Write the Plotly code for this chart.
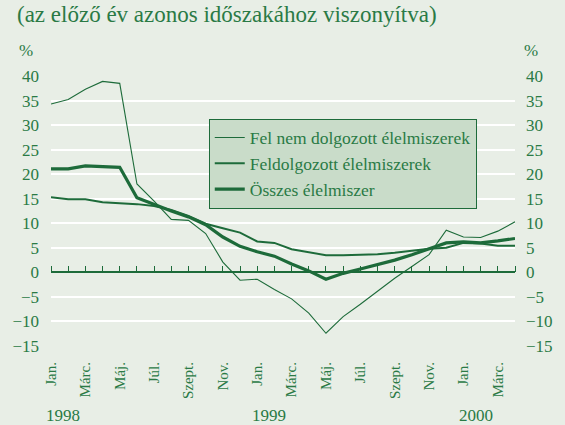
import plotly.graph_objects as go

# ---- data (monthly, Jan 1998 .. Apr 2000) ----
months_idx = list(range(28))
tick_pos = [0, 2, 4, 6, 8, 10, 12, 14, 16, 18, 20, 22, 24, 26]
tick_labels = ["Jan.", "Márc.", "Máj.", "Júl.", "Szept.", "Nov.",
               "Jan.", "Márc.", "Máj.", "Júl.", "Szept.", "Nov.",
               "Jan.", "Márc."]
years = ["1998", "1999", "2000"]
year_pos = [0, 12, 24]

fel_nem = [34.3, 35.2, 37.3, 38.9, 38.5, 18.0, 14.5, 10.8, 10.6, 7.9, 2.1, -1.6,
           -1.4, -3.5, -5.4, -8.3, -12.4, -9.0, -6.5, -3.9, -1.2, 1.2, 3.6, 8.6,
           7.2, 7.1, 8.4, 10.3]
feldolgozott = [15.3, 14.9, 14.9, 14.3, 14.1, 13.9, 13.5, 12.7, 11.5, 9.9, 9.0, 8.1,
                6.3, 6.0, 4.7, 4.1, 3.5, 3.5, 3.6, 3.7, 4.0, 4.4, 4.8, 5.0,
                6.0, 5.9, 5.4, 5.4]
osszes = [21.1, 21.1, 21.7, 21.6, 21.4, 15.2, 13.8, 12.5, 11.3, 9.7, 7.2, 5.3,
          4.2, 3.3, 1.7, 0.3, -1.4, -0.2, 0.7, 1.6, 2.5, 3.6, 4.8, 6.0,
          6.2, 6.0, 6.4, 6.9]

series_names = ["Fel nem dolgozott élelmiszerek", "Feldolgozott élelmiszerek", "Összes élelmiszer"]
y_ticks = [-15, -10, -5, 0, 5, 10, 15, 20, 25, 30, 35, 40]

# ---- style ----
BG = "#E8EEE6"
LINE = "#1D6B3A"
TXT = "#2A7A45"
FONT = "Times New Roman, Liberation Serif, Tinos, Times, serif"
YMIN, YMAX = -15, 40
XMAX = 27

fig = go.Figure()
for name, vals, w in zip(series_names, [fel_nem, feldolgozott, osszes], [1.1, 2.0, 3.2]):
    fig.add_trace(go.Scatter(x=months_idx, y=vals, mode="lines", name=name,
                             line=dict(color=LINE, width=w)))

# invisible trace to carry the tick axis at zero
fig.add_trace(go.Scatter(x=months_idx, y=[0] * len(months_idx), xaxis="x2", yaxis="y",
                         mode="lines", line=dict(width=0), showlegend=False, hoverinfo="skip"))
# right axis carrier
fig.add_trace(go.Scatter(x=months_idx, y=osszes, xaxis="x", yaxis="y2", mode="lines",
                         line=dict(width=0), showlegend=False, hoverinfo="skip"))

zero_pos = (0 - YMIN) / (YMAX - YMIN)

fig.update_layout(
    width=565, height=425,
    margin=dict(l=47, r=34, t=76, b=79),
    paper_bgcolor=BG, plot_bgcolor=BG,
    font=dict(family=FONT, color=TXT, size=17),
    showlegend=True,
    legend=dict(x=0.340, y=0.842, xanchor="left", yanchor="top",
                bgcolor="#C9DCC9", bordercolor=LINE, borderwidth=1,
                font=dict(family=FONT, size=17.5, color=TXT),
                tracegroupgap=0, itemwidth=30),
    xaxis=dict(range=[0, XMAX], tickmode="array", tickvals=tick_pos, ticktext=tick_labels,
               tickangle=-90, showgrid=False, zeroline=False, showline=False, ticks="",
               tickfont=dict(size=15, family=FONT, color=TXT), ticklabelstandoff=12),
    xaxis2=dict(range=[0, XMAX], overlaying="x", anchor="free", position=zero_pos, side="top",
                tickmode="array", tickvals=months_idx, showticklabels=False,
                ticks="outside", ticklen=6, tickwidth=1.3, tickcolor=LINE,
                showgrid=False, zeroline=False, showline=False),
    yaxis=dict(range=[YMIN, YMAX], tickmode="array", tickvals=y_ticks,
               showgrid=True, gridcolor="white", gridwidth=1.6,
               zeroline=True, zerolinecolor=LINE, zerolinewidth=1.6,
               showline=False, ticks="", tickfont=dict(size=17, family=FONT, color=TXT),
               ticklabelstandoff=11),
    yaxis2=dict(range=[YMIN, YMAX], overlaying="y", side="right", tickmode="array",
                tickvals=y_ticks, showgrid=False, zeroline=False, showline=False, ticks="",
                tickfont=dict(size=17, family=FONT, color=TXT), ticklabelstandoff=10),
)

ann = [
    dict(text="(az előző év azonos időszakához viszonyítva)", xref="paper", yref="paper",
         x=-0.078, y=1.226, xanchor="left", yanchor="middle", showarrow=False,
         font=dict(size=23, family=FONT, color=TXT)),
    dict(text="%", xref="paper", yref="paper", x=-0.054, y=1.096, xanchor="center",
         yanchor="middle", showarrow=False, font=dict(size=17, family=FONT, color=TXT)),
    dict(text="%", xref="paper", yref="paper", x=1.035, y=1.096, xanchor="center",
         yanchor="middle", showarrow=False, font=dict(size=17, family=FONT, color=TXT)),
]
for yr, p in zip(years, year_pos):
    ann.append(dict(text=yr, xref="paper", yref="paper", x=(p - 0.4) / XMAX, y=-0.258,
                    xanchor="left", yanchor="middle", showarrow=False,
                    font=dict(size=17, family=FONT, color=TXT)))
fig.update_layout(annotations=ann)

fig.write_html("out.html", config={"displayModeBar": False},
               post_script="document.body.style.margin='0px';")
